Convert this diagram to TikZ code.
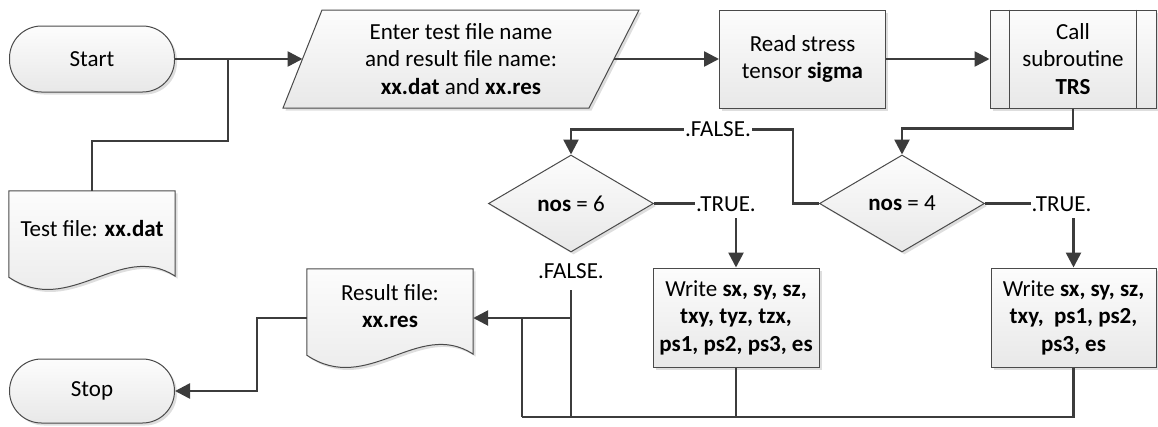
\documentclass[tikz,border=0pt]{standalone}
\usepackage{fontspec}
\setmainfont{Carlito}
\usetikzlibrary{shapes.geometric,shadows,arrows.meta,calc}

\definecolor{wire}{HTML}{3C3C3C}
\definecolor{rim}{HTML}{4A4A4A}

% document symbol with a wavy lower edge, drawn inside a placeholder node
\newcommand\docshape[1]{%
  \path[shape body] (#1.north west) -- (#1.north east)
    -- ($(#1.south east)+(0,-13)$)
    .. controls ($(#1.south east)+(-55,-49)$) and ($(#1.south west)+(61,29)$)
    .. ($(#1.south west)+(0,-12)$) -- cycle;}

\begin{document}
\begin{tikzpicture}[x=1pt,y=-1pt,
  font=\fontsize{23}{27.5}\selectfont,
  shape body/.style={draw=rim, line width=1pt, top color=black!1, bottom color=black!9,
    drop shadow={shadow xshift=2.5pt, shadow yshift=-2.5pt, fill=black!13, opacity=1}},
  termbox/.style={shape body, rectangle, rounded corners=32pt, inner sep=0pt,
    minimum width=165pt},
  procbox/.style={shape body, rectangle, inner sep=0pt, align=center,
    minimum width=166pt, minimum height=98pt},
  decbox/.style={shape body, diamond, aspect=1.71, inner sep=0pt,
    minimum width=165pt, minimum height=97pt},
  holder/.style={rectangle, inner sep=0pt, minimum width=166pt, minimum height=98pt},
  txt/.style={align=center, inner sep=0pt},
  flag/.style={inner xsep=1pt, inner ysep=0pt},
  link/.style={draw=wire, line width=2.6pt},
  flow/.style={link, -{Triangle[length=15pt,width=15pt]}}
]
\useasboundingbox (0,0) rectangle (1158,426);

% terminators
\node[termbox, minimum height=66pt] (start) at (92,59) {Start};
\node[termbox, minimum height=64pt] (stop) at (92,391) {Stop};

% input parallelogram
\path[shape body] (283,108) -- (322,10) -- (639,10) -- (589,108) -- cycle;
\coordinate (inpL) at (302.5,59);
\coordinate (inpR) at (614,59);
\node[txt] (inp) at (461,59) {Enter test file name\\and result file name:\\\textbf{xx.dat} and \textbf{xx.res}};

% processes
\node[procbox] (read) at (802.5,59) {Read stress\\tensor \textbf{sigma}};
\node[procbox] (call) at (1073,59) {Call\\subroutine\\\textbf{TRS}};
\draw[rim, line width=1pt] ([xshift=20pt]call.north west) -- ([xshift=20pt]call.south west)
  ([xshift=-20pt]call.north east) -- ([xshift=-20pt]call.south east);

% decisions
\node[decbox] (d6) at (571,203.5) {\textbf{nos} = 6};
\node[decbox] (d4) at (902,203.5) {\textbf{nos} = 4};

% outputs
\node[procbox, minimum height=99pt] (w6) at (736,317.5)
  {Write \textbf{sx, sy, sz,}\\\textbf{txy, tyz, tzx,}\\\textbf{ps1, ps2, ps3, es}};
\node[procbox, minimum height=99pt, minimum width=165pt] (w4) at (1073.5,317.5)
  {Write \textbf{sx, sy, sz,}\\\textbf{txy,\ \ ps1, ps2,}\\\textbf{ps3, es}};

% files
\node[holder] (testf) at (92,240) {};
\docshape{testf}
\node[txt] (testfT) at (92,228.5) {Test file: \textbf{xx.dat}};
\node[holder] (resf) at (390,318) {};
\docshape{resf}
\node[txt] (resfT) at (390,306) {Result file:\\\textbf{xx.res}};

% branch labels
\node[flag] (fa) at (718,129.5) {.FALSE.};
\node[flag, inner ysep=6.5pt] (t6) at (726,204) {.TRUE.};
\node[flag, inner ysep=6.5pt] (t4) at (1061.5,204) {.TRUE.};
\node[flag, inner ysep=11pt, anchor=north] (f6) at (d6.south) {.FALSE.};

% junction points
\coordinate (jin) at (228,59);
\coordinate (jtest) at (228,141);
\coordinate (busL) at (522,417);
\coordinate (jres) at (571,318);

% connectors
\draw[flow] (start.east) -- (inpL);
\draw[link] (testf.north) |- (jtest) -- (jin);
\draw[flow] (inpR) -- (read.west);
\draw[flow] (read.east) -- (call.west);
\draw[flow] (call.south) -- ++(0,20) -| (d4.north);
\draw[link] (d4.west) -- ++(-26,0) |- (fa.east);
\draw[flow] (fa.west) -| (d6.north);
\draw[link] (d6.east) -- (d6.east -| t6.west);
\draw[flow] (t6.south -| w6.north) -- (w6.north);
\draw[link] (d4.east) -- (d4.east -| t4.west);
\draw[flow] (t4.south -| w4.north) -- (w4.north);
\draw[link] (w4.south) |- (busL);
\draw[link] (w6.south) -- (w6.south |- busL);
\draw[link] (f6.south) -- (f6.south |- busL);
\draw[link] (jres) -- (jres -| busL);
\draw[flow] (busL) |- (resf.east);
\draw[flow] (resf.west) -- ++(-50,0) |- (stop.east);
\end{tikzpicture}
\end{document}
